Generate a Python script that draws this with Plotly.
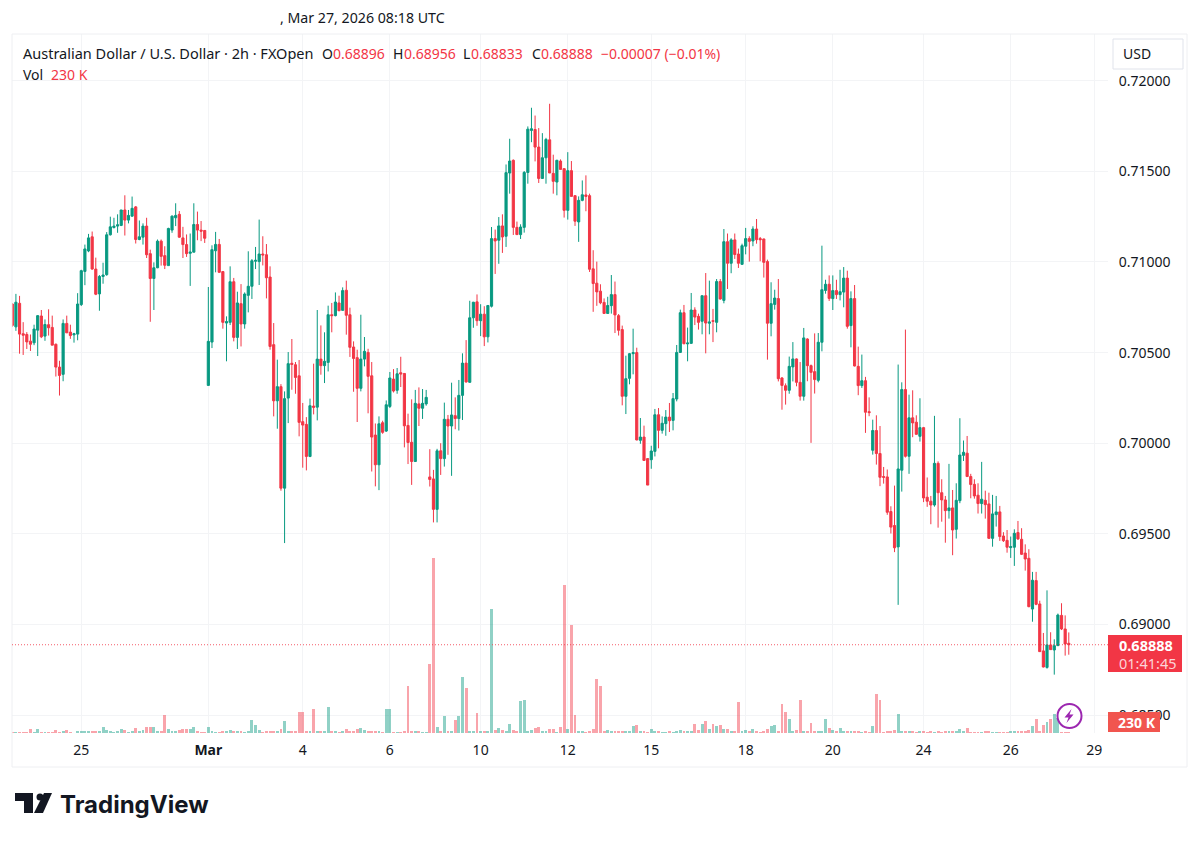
import numpy as np
import plotly.graph_objects as go

# prices in points (1 point = 0.00001)
opens = [
    70768,70642,70772,70604,70600,70563,70554,70624,70702,70591,
    70654,70639,70546,70420,70380,70661,70613,70598,70602,70765,
    70948,71061,71139,70961,70824,70920,70930,71150,71190,71198,
    71202,71287,71231,71253,71304,71124,71137,71198,71046,70909,
    70968,71115,71035,70980,71176,71244,71263,71133,71096,71048,
    71054,71207,71176,71174,70319,70558,71062,71097,70947,70663,
    70667,70891,70584,70770,70658,70816,70866,71004,71002,71044,
    71040,70917,70544,70234,70312,69752,70249,70441,70433,70372,
    70119,70104,69927,70205,70199,70464,70428,70446,70709,70704,
    70774,70733,70844,70709,70531,70472,70303,70464,70501,70372,
    70045,69881,70113,70067,70203,70354,70292,70389,70385,70098,
    70005,69899,70217,70193,70217,69814,69803,69635,69958,69915,
    70132,70095,70152,70136,70264,70442,70336,70692,70780,70676,
    70712,70587,70756,71129,71120,71199,71142,71491,71561,71191,
    71151,71191,71494,71726,71731,71634,71461,71575,71674,71489,
    71441,71557,71515,71285,71504,71366,71221,71340,71370,71366,
    70962,70883,70839,70777,70716,70759,70820,70704,70627,70259,
    70358,70494,70500,70016,70034,69915,69909,69955,70157,70071,
    70108,70144,70126,70244,70501,70720,70548,70551,70735,70700,
    70673,70814,70662,70676,70667,70892,70788,71112,70993,71122,
    71044,70987,71087,71129,71116,71182,71129,71127,71002,70662,
    70766,70798,70360,70317,70292,70421,70465,70336,70259,70575,
    70428,70395,70347,70557,70843,70877,70798,70842,70820,70834,
    70911,70649,70798,70424,70318,70345,70174,69961,70070,69943,
    69816,69814,69623,69546,69428,69851,70296,69928,70140,70116,
    70038,70086,69702,69680,69659,69889,69727,69687,69628,69643,
    69525,69683,69933,69945,69816,69773,69713,69667,69685,69665,
    69475,69606,69621,69488,69464,69424,69426,69507,69470,69394,
    69365,69085,69242,69113,68854,68763,68887,68859,68883,69050,
    68975,68896,
]
highs = [
    70772,70824,70813,70668,70613,70600,70654,70707,70735,70683,
    70739,70704,70550,70455,70683,70704,70654,70609,70828,70957,
    71096,71155,71168,71024,70928,70996,71165,71250,71244,71263,
    71287,71368,71287,71361,71309,71229,71213,71244,71068,70998,
    71124,71124,71087,71189,71257,71324,71281,71194,71152,71157,
    71324,71278,71226,71176,70862,71092,71166,71127,70948,70700,
    70976,70912,70836,70878,70832,71059,71016,71083,71234,71142,
    71099,70976,70663,70461,70326,70286,70503,70575,70448,70459,
    70222,70144,70246,70439,70735,70650,70612,70759,70774,70832,
    70814,70860,70897,70748,70562,70516,70709,70586,70521,70448,
    70109,70148,70124,70236,70393,70409,70415,70477,70387,70163,
    70242,70294,70308,70299,70294,69967,69853,69969,70000,70224,
    70156,70334,70253,70349,70496,70569,70786,70780,70821,70767,
    70756,70762,71193,71179,71248,71263,71538,71680,71566,71223,
    71208,71502,71748,71851,71808,71739,71711,71685,71873,71592,
    71564,71566,71515,71606,71557,71368,71362,71450,71478,71377,
    71065,71002,70877,70799,70808,70928,70892,70713,70649,70483,
    70498,70632,70527,70139,70097,69918,69986,70189,70194,70148,
    70183,70222,70277,70542,70737,70763,70638,70829,70750,70715,
    70814,70939,70897,70741,70906,70906,71182,71157,71131,71157,
    71074,71101,71188,71142,71197,71237,71138,71129,71013,70888,
    70847,70906,70365,70330,70478,70558,70468,70448,70636,70579,
    70434,70606,70608,71090,70902,70926,70926,70902,70957,70972,
    70952,70838,70873,70533,70489,70366,70253,70130,70154,70095,
    69869,69855,69652,69766,70434,70336,70627,70268,70292,70154,
    70248,70090,69811,69709,70151,69900,69801,69709,69886,69742,
    69779,70138,70015,70040,69831,69801,69779,69897,69738,69727,
    69715,69709,69654,69509,69521,69485,69525,69571,69531,69442,
    69415,69290,69290,69131,68953,69188,68957,68918,69060,69117,
    69050,68956,
]
lows = [
    70642,70620,70494,70487,70520,70509,70541,70481,70580,70565,
    70594,70541,70368,70263,70342,70609,70576,70555,70568,70757,
    70872,71054,70957,70817,70731,70880,70924,71146,71185,71161,
    71198,71146,71213,71250,71102,71120,71096,71022,70670,70735,
    70966,70980,70961,70980,71161,71198,71133,71022,71028,70868,
    71054,71120,71115,71105,70319,70525,70943,70939,70632,70452,
    70652,70562,70520,70534,70632,70722,70796,70961,70873,70981,
    70799,70516,70148,70080,69738,69449,70111,70295,70273,70038,
    69865,69850,69923,70159,70126,70378,70332,70396,70612,70700,
    70729,70731,70599,70476,70284,70117,70286,70424,70165,69844,
    69762,69741,70052,70062,70194,70280,70273,70310,69977,69885,
    69770,69899,70095,70134,70207,69761,69563,69563,69825,69871,
    69936,69820,70077,70070,70128,70334,70334,70637,70648,70591,
    70536,70556,70749,70934,70990,71050,71083,71377,71149,71149,
    71127,71162,71432,71661,71555,71436,71460,71432,71491,71377,
    71368,71511,71245,71234,71362,71199,71111,71335,71280,70945,
    70725,70758,70767,70716,70716,70715,70608,70594,70209,70161,
    70325,70380,70016,69997,69905,69769,69859,69927,69972,70053,
    70041,70062,70071,70231,70498,70546,70452,70549,70652,70627,
    70601,70496,70601,70558,70612,70792,70772,70851,70938,71017,
    70967,70984,71042,71002,71087,71101,71004,70914,70461,70590,
    70737,70341,70185,70213,70273,70341,70314,70235,70235,70342,
    70002,70274,70336,70507,70825,70785,70735,70796,70788,70750,
    70632,70529,70424,70265,70305,70057,70149,69937,69882,69763,
    69777,69605,69502,69399,69108,69733,69921,69831,70033,70048,
    70009,69675,69649,69553,69650,69534,69567,69451,69584,69382,
    69474,69669,69902,69816,69696,69694,69612,69612,69584,69474,
    69429,69540,69461,69455,69396,69367,69323,69466,69383,69297,
    69095,69015,69106,68850,68763,68756,68859,68723,68881,68969,
    68828,68833,
]
closes = [
    70650,70778,70602,70596,70559,70546,70630,70704,70587,70655,
    70637,70541,70420,70374,70661,70609,70594,70604,70768,70952,
    71072,71133,70961,70822,70920,70928,71150,71194,71198,71205,
    71287,71231,71257,71296,71124,71139,71198,71040,70909,70968,
    71115,71031,70982,71185,71253,71257,71137,71096,71046,71055,
    71207,71176,71170,71131,70562,71068,71097,70943,70667,70671,
    70891,70584,70774,70658,70823,70866,71007,71009,71044,71039,
    70913,70534,70234,70312,69752,70246,70439,70435,70363,70115,
    70100,69927,70207,70198,70464,70428,70452,70709,70704,70779,
    70731,70842,70706,70529,70468,70303,70464,70507,70369,70034,
    69881,70107,70060,70212,70360,70288,70383,70382,70096,70004,
    69899,70220,70193,70220,70253,69800,69635,69958,69915,70132,
    70095,70156,70136,70264,70442,70338,70692,70778,70676,70712,
    70587,70760,71129,71116,71199,71138,71493,71557,71191,71151,
    71193,71494,71733,71735,71634,71461,71575,71676,71491,71445,
    71561,71511,71285,71504,71362,71225,71340,71371,71362,70960,
    70881,70835,70775,70716,70760,70820,70708,70623,70259,70356,
    70494,70500,70018,70034,69905,69769,69957,70157,70071,70110,
    70144,70124,70246,70501,70720,70549,70553,70735,70696,70667,
    70814,70663,70669,70673,70892,70796,71112,70993,71122,71041,
    70993,71090,71129,71114,71182,71123,71123,70998,70662,70770,
    70801,70356,70319,70292,70424,70465,70336,70259,70581,70428,
    70391,70351,70557,70847,70877,70799,70842,70820,70836,70911,
    70645,70798,70426,70318,70345,70171,70169,70070,69943,69812,
    69812,69619,69537,69423,69858,70296,69928,70140,70112,70049,
    70086,69698,69680,69659,69889,69727,69687,69628,69643,69521,
    69685,69935,69950,69816,69772,69709,69667,69691,69661,69475,
    69610,69621,69485,69462,69426,69429,69503,69472,69387,69361,
    69098,69244,69111,68850,68765,68887,68861,68883,69052,68975,
    68892,68888,
]
# volume in thousands
volumes = [
    150,150,150,310,150,1000,150,1000,310,150,
    310,310,770,310,540,770,150,80,385,385,
    385,385,385,385,385,1385,615,385,150,540,
    1000,770,150,540,1155,540,770,1385,1385,1385,
    540,540,4235,1000,385,540,770,1000,1000,1000,
    1385,540,150,150,1385,385,150,150,385,385,
    615,540,540,540,230,385,3080,1850,770,150,
    385,385,385,385,1000,2695,385,385,385,4775,
    4930,385,385,5545,385,385,385,6005,385,385,
    150,540,1000,385,385,1000,1155,615,540,540,
    385,540,150,5545,5545,150,150,150,385,10935,
    540,385,385,150,150,15940,40425,1385,385,4005,
    385,385,3080,4005,12935,10470,385,385,4620,385,
    385,385,28645,770,1155,770,540,2080,770,540,
    7470,7700,540,770,1155,1385,385,385,1000,1000,
    150,1385,34265,1000,25025,4235,385,385,150,540,
    1000,12550,10935,385,770,385,540,385,385,385,
    385,1540,1850,385,385,150,1000,385,385,150,
    150,385,150,385,770,385,385,385,2080,770,
    2080,2695,1000,2080,1540,1850,1000,1000,540,540,
    7160,385,770,540,1000,540,150,540,1000,1615,
    1850,540,6620,4775,3235,540,770,7625,385,385,
    2310,385,385,385,3235,1155,770,540,1155,540,
    385,385,385,385,230,385,230,1695,9085,7545,
    230,385,540,770,4390,540,385,385,385,230,
    385,385,230,385,230,385,230,385,540,540,
    540,1000,385,1155,230,230,230,230,385,385,
    230,230,150,230,230,385,385,385,540,540,
    615,1540,3235,385,1925,2620,3155,4390,3465,230,
    230,230,
]
tick_bars = [19, 54, 80, 104, 129, 153, 176, 202, 226, 251, 275, 298]
tick_labels = ["25", "<b>Mar</b>", "4", "6", "10", "12", "15", "18", "20", "24", "26", "29"]
price_ticks = [0.685, 0.69, 0.695, 0.70, 0.705, 0.71, 0.715, 0.72]
last_close = 0.68888

UP = "#089981"
DOWN = "#F23645"
TEXT = "#131722"
GRID = "#f3f4f6"
FONT = "Noto Sans"
W, H = 1200, 841


def px(x):
    return x / W


def py(y):
    return 1 - y / H


def poly(points):
    return "M " + " L ".join(f"{px(a)} {py(b)}" for a, b in points) + " Z"


def box(x0, y0, x1, y1, fill, line="rgba(0,0,0,0)"):
    return dict(type="rect", xref="paper", yref="paper", x0=px(x0), x1=px(x1), y0=py(y0), y1=py(y1),
                fillcolor=fill, line=dict(color=line, width=1))


def label(x, y, text, color=TEXT, size=14, anchor="left", family=FONT):
    return dict(xref="paper", yref="paper", x=px(x), y=py(y), text=text, showarrow=False, xanchor=anchor,
                yanchor="middle", borderpad=0, font=dict(family=family, size=size, color=color))


o = np.array(opens) / 1e5
h = np.array(highs) / 1e5
l = np.array(lows) / 1e5
c = np.array(closes) / 1e5
bars = list(range(len(opens)))
vol_colors = ["rgba(8,153,129,0.45)" if b >= a else "rgba(242,54,69,0.45)" for a, b in zip(o, c)]

fig = go.Figure()
fig.add_trace(go.Candlestick(
    x=bars, open=o, high=h, low=l, close=c, yaxis="y", whiskerwidth=0,
    increasing=dict(line=dict(color=UP, width=1), fillcolor=UP),
    decreasing=dict(line=dict(color=DOWN, width=1), fillcolor=DOWN),
))
fig.add_trace(go.Bar(x=bars, y=volumes, yaxis="y2", marker=dict(color=vol_colors, line_width=0), width=0.8))

shapes = [
    box(12, 34, 1187, 767, "rgba(0,0,0,0)", "#eeeff2"),
    dict(type="line", xref="paper", yref="y", x0=px(12), x1=px(1108), y0=last_close, y1=last_close,
         line=dict(color="rgba(242,54,69,0.8)", width=1, dash="1px,2px")),
    box(1113, 39, 1183, 69, "white", "#e0e3eb"),
    box(1108, 635, 1182, 672, DOWN),
    box(1108, 712, 1160, 732, "#F1554F"),
    dict(type="circle", xref="paper", yref="paper", x0=px(1057.5), x1=px(1081.5), y0=py(704), y1=py(728),
         fillcolor="white", line=dict(color="#9c27b0", width=2)),
    dict(type="path", xref="paper", yref="paper", fillcolor="#9c27b0", line_width=0,
         path=poly([(1071.5, 709), (1064.5, 717.5), (1068.5, 717.5), (1066.5, 723), (1073.5, 714.5), (1069.5, 714.5)])),
    # logo
    dict(type="path", xref="paper", yref="paper", fillcolor="#131722", line_width=0,
         path=poly([(15, 793), (33, 793), (33, 813), (24, 813), (24, 801), (15, 801)])),
    dict(type="circle", xref="paper", yref="paper", fillcolor="#131722", line_width=0,
         x0=px(36.5), x1=px(43.5), y0=py(793.5), y1=py(800.5)),
    dict(type="path", xref="paper", yref="paper", fillcolor="#131722", line_width=0,
         path=poly([(44, 793), (52, 793), (43, 813), (34, 813)])),
]

annotations = [
    label(279, 18, ", Mar 27, 2026 08:18 UTC", size=14.2),
    label(22, 53, "Australian Dollar / U.S. Dollar · 2h · FXOpen", size=14.5),
    label(321, 53, "O"), label(332, 53, "0.68896", DOWN),
    label(392, 53, "H"), label(403, 53, "0.68956", DOWN),
    label(462, 53, "L"), label(470, 53, "0.68833", DOWN),
    label(531, 53, "C"), label(540, 53, "0.68888", DOWN),
    label(600, 53, "−0.00007 (−0.01%)", DOWN),
    label(22, 74, "Vol"), label(50, 74, "230 K", DOWN),
    label(1122, 54, "USD"),
    label(1118, 645, "<b>0.68888</b>", "white", 14.5),
    label(1118, 663, "01:41:45", "#fcd4d8", 14.5),
    label(1117, 722, "<b>230 K</b>", "white", 14),
    label(59, 804, "<b>TradingView</b>", "#131722", 24, family="Inter"),
]

fig.update_layout(
    width=W, height=H, margin=dict(l=0, r=0, t=0, b=0),
    paper_bgcolor="white", plot_bgcolor="white", showlegend=False, bargap=0, boxgap=0.15,
    font=dict(family=FONT, size=14, color=TEXT),
    shapes=shapes, annotations=annotations,
    xaxis=dict(
        domain=[px(12), px(1108)], range=[-0.08, 301.8], rangeslider_visible=False,
        tickmode="array", tickvals=tick_bars, ticktext=tick_labels,
        ticks="outside", ticklen=4, tickcolor="white", showgrid=True, gridcolor=GRID, gridwidth=1,
        zeroline=False, showline=False,
    ),
    yaxis=dict(
        domain=[py(733), py(34)], range=[0.68401, 0.72258], side="right", anchor="x",
        tickmode="array", tickvals=price_ticks, tickformat=".5f",
        ticks="outside", ticklen=7, tickcolor="white", showgrid=True, gridcolor=GRID, gridwidth=1,
        zeroline=False, showline=False,
    ),
    yaxis2=dict(
        domain=[py(733), py(34)], range=[0, 161469], overlaying="y", anchor="x",
        showgrid=False, showticklabels=False, zeroline=False, showline=False,
    ),
)

fig.write_html("out.html", config=dict(displayModeBar=False), post_script="document.body.style.margin='0';")
